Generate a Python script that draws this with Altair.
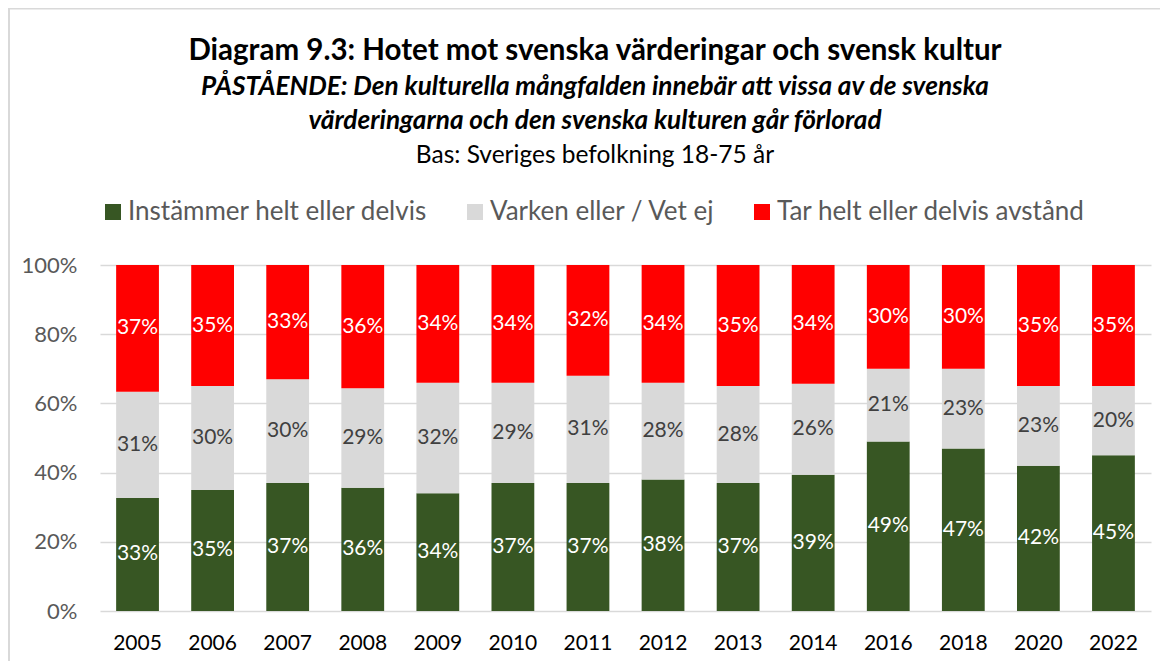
import altair as alt
import pandas as pd

years = ["2005", "2006", "2007", "2008", "2009", "2010", "2011", "2012",
         "2013", "2014", "2016", "2018", "2020", "2022"]
agree = [33, 35, 37, 36, 34, 37, 37, 38, 37, 39, 49, 47, 42, 45]
neither = [31, 30, 30, 29, 32, 29, 31, 28, 28, 26, 21, 23, 23, 20]
disagree = [37, 35, 33, 36, 34, 34, 32, 34, 35, 34, 30, 30, 35, 35]
categories = ["Instämmer helt eller delvis", "Varken eller / Vet ej",
              "Tar helt eller delvis avstånd"]
colors = ["#375623", "#D9D9D9", "#FF0000"]

title = "Diagram 9.3: Hotet mot svenska värderingar och svensk kultur"
subtitle1 = "PÅSTÅENDE: Den kulturella mångfalden innebär att vissa av de svenska"
subtitle2 = "värderingarna och den svenska kulturen går förlorad"
base_line = "Bas: Sveriges befolkning 18-75 år"

rows = []
for i, yr in enumerate(years):
    for j, (cat, vals) in enumerate(zip(categories, [agree, neither, disagree])):
        rows.append({"year": yr, "cat": cat, "order": j, "value": vals[i]})
df = pd.DataFrame(rows)

W, H = 1051, 346
PAD = {"left": 92, "top": 257, "right": 9, "bottom": 50}
FONT = "Lato"

base = alt.Chart(df).transform_stack(
    stack="value", groupby=["year"], as_=["v0", "v1"],
    sort=[alt.SortField("order", "ascending")], offset="normalize"
).transform_calculate(
    mid="(datum.v0 + datum.v1) / 2", label="datum.value + '%'"
)

x_axis = alt.Axis(title=None, labelAngle=0, labelColor="#000000", labelFontSize=21,
                  labelFont=FONT, labelPadding=21, ticks=False, domain=False, grid=False)
y_axis = alt.Axis(title=None, format=".0%", values=[0, 0.2, 0.4, 0.6, 0.8, 1.0],
                  labelFontSize=22, labelFont=FONT, labelColor="#595959",
                  labelPadding=23, ticks=False, domain=False,
                  gridColor="#D9D9D9", gridWidth=1.5)
x_enc = alt.X("year:N", sort=years,
              scale=alt.Scale(paddingInner=0.43, paddingOuter=0.215), axis=x_axis)

bars = base.mark_bar().encode(
    x=x_enc,
    y=alt.Y("v0:Q", scale=alt.Scale(domain=[0, 1]), axis=y_axis),
    y2="v1:Q",
    color=alt.Color("cat:N", sort=categories,
                    scale=alt.Scale(domain=categories, range=colors),
                    legend=alt.Legend(orient="none", legendX=0, legendY=-66,
                                      direction="horizontal", title=None,
                                      symbolType="square", symbolSize=256,
                                      symbolStrokeWidth=0, labelFont=FONT,
                                      labelFontSize=26, labelColor="#595959",
                                      labelOffset=2, columnPadding=34,
                                      labelLimit=1000, padding=0)),
)

labels = base.mark_text(font=FONT, fontSize=21, baseline="middle").encode(
    x=x_enc,
    y=alt.Y("mid:Q", scale=alt.Scale(domain=[0, 1]), axis=y_axis),
    text="label:N",
    color=alt.condition(f"datum.cat == '{categories[1]}'",
                        alt.value("#404040"), alt.value("#FFFFFF")),
)


def header(text, y, size, weight="normal", style="normal"):
    return alt.Chart(pd.DataFrame({"t": [text]})).mark_text(
        font=FONT, fontSize=size, fontWeight=weight, fontStyle=style,
        align="center", baseline="alphabetic", color="#000000"
    ).encode(text="t:N", x=alt.value(495), y=alt.value(y))


t1 = header(title, -205, 29.5, weight="bold")
t2 = header(subtitle1, -170, 26.2, weight="bold", style="italic")
t3 = header(subtitle2, -136, 26.2, weight="bold", style="italic")
t4 = header(base_line, -102, 24.5)

frame_data = pd.DataFrame({"k": [0]})
frame_top = alt.Chart(frame_data).mark_rule(color="#D9D9D9", strokeWidth=1.5).encode(
    x=alt.value(-92), x2=alt.value(W + 9), y=alt.value(-256.25))
frame_left = alt.Chart(frame_data).mark_rule(color="#D9D9D9", strokeWidth=2).encode(
    x=alt.value(-91), y=alt.value(-257), y2=alt.value(H + 50))

chart = alt.layer(frame_top, frame_left, bars, labels, t1, t2, t3, t4).properties(
    width=W, height=H, padding=PAD,
    autosize=alt.AutoSizeParams(type="none"),
    background="#FFFFFF",
).configure_view(stroke=None)

chart.save("out.html", embed_options={"renderer": "svg", "actions": False})
